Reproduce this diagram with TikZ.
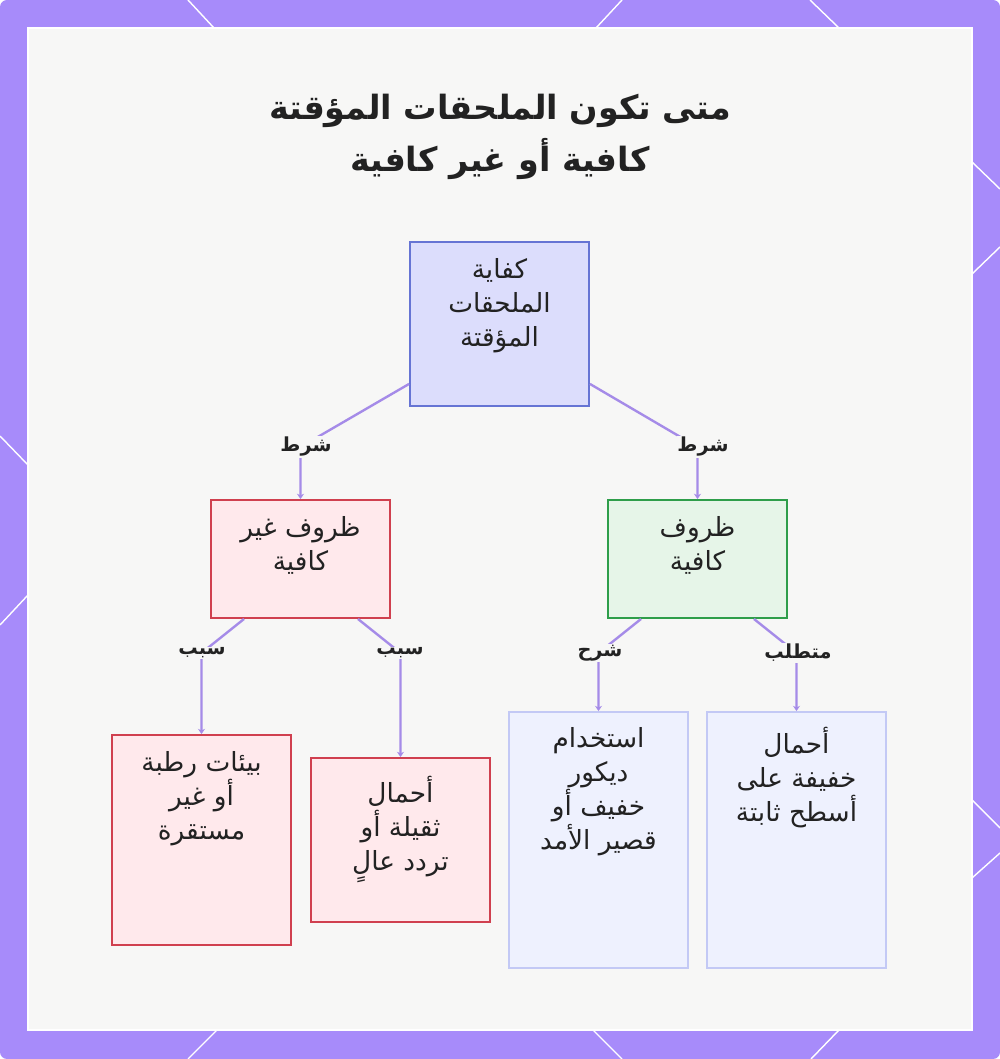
\documentclass[tikz,border=0pt]{standalone}
\usepackage{fontspec}
\usetikzlibrary{arrows.meta,calc}
\newfontfamily\arabicfont[Script=Arabic]{DejaVu Sans}
\TeXXeTstate=1
\newcommand\arl[1]{\beginR#1\endR}
\definecolor{frame}{HTML}{A78BFA}
\definecolor{panel}{HTML}{F7F7F6}
\definecolor{ink}{HTML}{222222}
\definecolor{edgec}{HTML}{A58BE8}
\definecolor{mainfill}{HTML}{DCDDFC}
\definecolor{maindraw}{HTML}{6674D4}
\definecolor{badfill}{HTML}{FFE9EC}
\definecolor{baddraw}{HTML}{D0404F}
\definecolor{goodfill}{HTML}{E6F5E8}
\definecolor{gooddraw}{HTML}{2E9E4A}
\definecolor{infofill}{HTML}{EEF1FE}
\definecolor{infodraw}{HTML}{C3C9F5}
\begin{document}
\begin{tikzpicture}[
x=0.02cm, y=0.02cm,
box/.style={draw, line width=1.1pt, minimum width=3.58cm, inner sep=0pt},
mainbox/.style={box, fill=mainfill, draw=maindraw},
badbox/.style={box, fill=badfill, draw=baddraw},
goodbox/.style={box, fill=goodfill, draw=gooddraw},
infobox/.style={box, fill=infofill, draw=infodraw},
txt/.style={font=\arabicfont\fontsize{15}{19.3}\selectfont, align=center, anchor=north, text=ink, inner sep=0pt},
lbl/.style={font=\arabicfont\bfseries\fontsize{11}{13}\selectfont, fill=panel, inner sep=0.5pt, text=ink},
edge/.style={draw=edgec, line width=1.35pt, -{Stealth[length=3pt,width=4pt]}},
deco/.style={white, line width=0.8pt}
]

\useasboundingbox (0,0) rectangle (1000,1059);
\fill[frame, rounded corners=4pt] (0,0) rectangle (1000,1059);
\fill[panel, draw=white, line width=1.2pt] (28,29) rectangle (972,1031);

\draw[deco] (188,1059) -- (214,1031);
\draw[deco] (622,1059) -- (596,1031);
\draw[deco] (810,1059) -- (839,1031);
\draw[deco] (217,29) -- (188,0);
\draw[deco] (593,29) -- (622,0);
\draw[deco] (839,29) -- (811,0);
\draw[deco] (0,623) -- (28,594);
\draw[deco] (28,464) -- (0,434);
\draw[deco] (972,897) -- (1000,870);
\draw[deco] (972,785) -- (1000,812);
\draw[deco] (972,259) -- (1000,231);
\draw[deco] (972,181) -- (1000,206);

\node[font=\arabicfont\bfseries\fontsize{19}{30}\selectfont, align=center, text=ink] (title) at (500,922)
{\arl{متى تكون الملحقات المؤقتة}\\\arl{كافية أو غير كافية}};

\node[mainbox, minimum height=3.28cm] (kafaya) at (499.5,735) {};
\node[badbox, minimum height=2.36cm] (ghair) at (300.5,500) {};
\node[goodbox, minimum height=2.36cm] (kafia) at (697.5,500) {};
\node[badbox, minimum height=4.2cm] (bia) at (201.5,219) {};
\node[badbox, minimum height=3.28cm] (thaqil) at (400.5,219) {};
\node[infobox, minimum height=5.12cm] (dekor) at (598.5,219) {};
\node[infobox, minimum height=5.12cm] (khafif) at (796.5,219) {};

\node[txt] (kafaya-t) at ($(kafaya.north)+(0,-17)$) {\arl{كفاية}\\\arl{الملحقات}\\\arl{المؤقتة}};
\node[txt] (ghair-t) at ($(ghair.north)+(0,-17)$) {\arl{ظروف غير}\\\arl{كافية}};
\node[txt] (kafia-t) at ($(kafia.north)+(0,-17)$) {\arl{ظروف}\\\arl{كافية}};
\node[txt] (bia-t) at ($(bia.north)+(0,-17)$) {\arl{بيئات رطبة}\\\arl{أو غير}\\\arl{مستقرة}};
\node[txt] (thaqil-t) at ($(thaqil.north)+(0,-19)$) {\arl{أحمال}\\\arl{ثقيلة أو}\\\arl{تردد عالٍ}};
\node[txt] (dekor-t) at ($(dekor.north)+(0,-16)$) {\arl{استخدام}\\\arl{ديكور}\\\arl{خفيف أو}\\\arl{قصير الأمد}};
\node[txt] (khafif-t) at ($(khafif.north)+(0,-16)$) {\arl{أحمال}\\\arl{خفيفة على}\\\arl{أسطح ثابتة}};

\coordinate (b1) at (300.5,612);
\coordinate (b2) at (697.5,612);
\coordinate (b3) at (201.5,406);
\coordinate (b4) at (400.5,406);
\coordinate (b5) at (598.5,406);
\coordinate (b6) at (796.5,406);

\draw[edge] ($(kafaya.south west)+(0,23)$) -- (b1) -- (ghair.north);
\draw[edge] ($(kafaya.south east)+(0,23)$) -- (b2) -- (kafia.north);
\draw[edge] ($(ghair.south west)+(34,0)$) -- (b3) -- (bia.north);
\draw[edge] ($(ghair.south east)+(-33,0)$) -- (b4) -- (thaqil.north);
\draw[edge] ($(kafia.south west)+(34,0)$) -- (b5) -- (dekor.north);
\draw[edge] ($(kafia.south east)+(-34,0)$) -- (b6) -- (khafif.north);

\node[lbl] (l1) at (306,612) {\arl{شرط}};
\node[lbl] (l2) at (703,612) {\arl{شرط}};
\node[lbl] (l3) at (202,406) {\arl{سبب}};
\node[lbl] (l4) at (400,406) {\arl{سبب}};
\node[lbl] (l5) at (600,406) {\arl{شرح}};
\node[lbl] (l6) at (798,406) {\arl{متطلب}};

\end{tikzpicture}
\end{document}
